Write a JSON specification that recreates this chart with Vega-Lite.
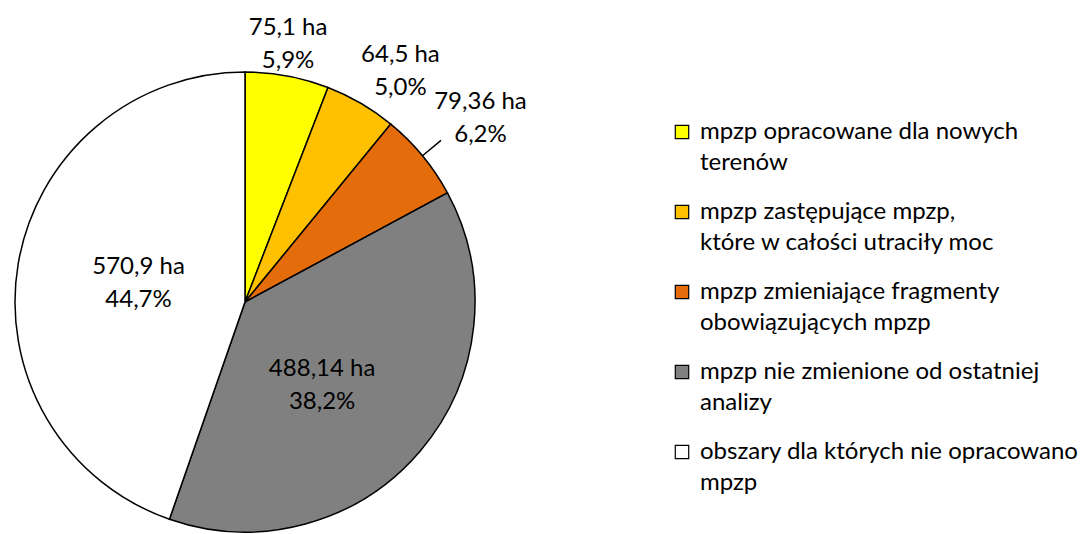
{
  "$schema": "https://vega.github.io/schema/vega-lite/v6.json",
  "width": 490,
  "height": 464,
  "autosize": {"type": "none"},
  "padding": {"top": 70, "left": 0, "right": 596, "bottom": 0},
  "background": "white",
  "config": {"view": {"stroke": null}, "font": "Lato"},
  "data": {
    "values": [
      {"kat": "mpzp opracowane dla nowych|terenów", "ha": 75.1, "ord": 1, "label": "75,1 ha\n5,9%"},
      {"kat": "mpzp zastępujące mpzp,|które w całości utraciły moc", "ha": 64.5, "ord": 2, "label": "64,5 ha\n5,0%"},
      {"kat": "mpzp zmieniające fragmenty|obowiązujących mpzp", "ha": 79.36, "ord": 3, "label": "79,36 ha\n6,2%"},
      {"kat": "mpzp nie zmienione od ostatniej|analizy", "ha": 488.14, "ord": 4, "label": "488,14 ha\n38,2%"},
      {"kat": "obszary dla których nie opracowano|mpzp", "ha": 570.9, "ord": 5, "label": "570,9 ha\n44,7%"}
    ]
  },
  "encoding": {
    "theta": {"field": "ha", "type": "quantitative", "stack": true},
    "order": {"field": "ord", "type": "quantitative", "sort": "ascending"}
  },
  "layer": [
    {
      "mark": {"type": "arc", "outerRadius": 230, "stroke": "black", "strokeWidth": 1.5},
      "encoding": {
        "color": {
          "field": "kat",
          "type": "nominal",
          "sort": null,
          "scale": {
            "domain": [
              "mpzp opracowane dla nowych|terenów",
              "mpzp zastępujące mpzp,|które w całości utraciły moc",
              "mpzp zmieniające fragmenty|obowiązujących mpzp",
              "mpzp nie zmienione od ostatniej|analizy",
              "obszary dla których nie opracowano|mpzp"
            ],
            "range": ["#FFFF00", "#FFC000", "#E46C0A", "#808080", "#FFFFFF"]
          },
          "legend": {
            "orient": "none",
            "legendX": 670,
            "legendY": 50,
            "title": null,
            "symbolType": "square",
            "symbolSize": 180,
            "symbolStrokeColor": "black",
            "symbolStrokeWidth": 1.2,
            "labelExpr": "split(datum.label, '|')",
            "labelFont": "Lato",
            "labelFontSize": 24,
            "labelColor": "#000000",
            "labelBaseline": "middle",
            "labelOffset": 6,
            "labelLimit": 500,
            "rowPadding": 25,
            "encode": {"labels": {"update": {"lineHeight": {"value": 31}}}}
          }
        }
      }
    },
    {
      "transform": [
        {"window": [{"op": "sum", "field": "ha", "as": "cum"}], "sort": [{"field": "ord", "order": "ascending"}], "frame": [null, 0]},
        {"calculate": "datum.cum - datum.ha / 2", "as": "mid"},
        {"filter": "datum.ord == 3"}
      ],
      "mark": {"type": "arc", "innerRadius": 230, "outerRadius": 254, "stroke": "black", "strokeWidth": 1.5, "fill": null},
      "encoding": {
        "theta": {"field": "mid", "type": "quantitative", "stack": null},
        "theta2": {"field": "mid"}
      }
    },
    {
      "mark": {"type": "text", "radius": 262, "dx": -5, "dy": -16, "fontSize": 24, "lineBreak": "\n", "lineHeight": 33, "color": "#000000", "font": "Lato"},
      "encoding": {"text": {"condition": {"test": "datum.ord == 1", "field": "label"}, "value": ""}}
    },
    {
      "mark": {"type": "text", "radius": 265, "dx": 22, "dy": -18, "fontSize": 24, "lineBreak": "\n", "lineHeight": 33, "color": "#000000", "font": "Lato"},
      "encoding": {"text": {"condition": {"test": "datum.ord == 2", "field": "label"}, "value": ""}}
    },
    {
      "mark": {"type": "text", "radius": 300, "dx": 4, "dy": -9, "fontSize": 24, "lineBreak": "\n", "lineHeight": 33, "color": "#000000", "font": "Lato"},
      "encoding": {"text": {"condition": {"test": "datum.ord == 3", "field": "label"}, "value": ""}}
    },
    {
      "mark": {"type": "text", "radius": 100, "dx": 1, "dy": 2, "fontSize": 24, "lineBreak": "\n", "lineHeight": 33, "color": "#000000", "font": "Lato"},
      "encoding": {"text": {"condition": {"test": "datum.ord == 4", "field": "label"}, "value": ""}}
    },
    {
      "mark": {"type": "text", "radius": 108, "dy": -17, "fontSize": 24, "lineBreak": "\n", "lineHeight": 33, "color": "#000000", "font": "Lato"},
      "encoding": {"text": {"condition": {"test": "datum.ord == 5", "field": "label"}, "value": ""}}
    }
  ]
}
